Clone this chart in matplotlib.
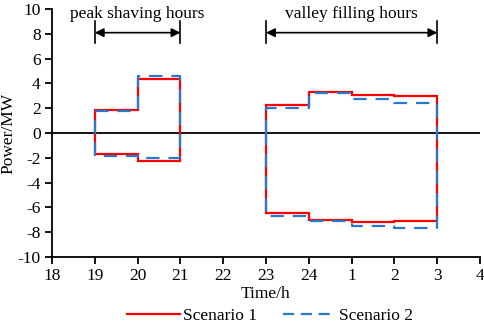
import numpy as np
import matplotlib.pyplot as plt
from matplotlib.lines import Line2D

plt.rcParams['font.family'] = ['Liberation Serif', 'DejaVu Serif']
plt.rcParams['axes.unicode_minus'] = False

# hour axis labels (18h through 4h next day)
hour_labels = ["18", "19", "20", "21", "22", "23", "24", "1", "2", "3", "4"]

# peak shaving period 19-21, valley filling period 23-3
peak_hours = ["19", "20", "21"]
valley_hours = ["23", "24", "1", "2", "3"]

# upper / lower power per hour block (MW)
s1_peak_up = [1.85, 4.35]
s1_peak_dn = [-1.65, -2.25]
s2_peak_up = [1.75, 4.6]
s2_peak_dn = [-1.85, -1.97]

s1_valley_up = [2.23, 3.28, 3.06, 3.0]
s1_valley_dn = [-6.48, -7.0, -7.2, -7.1]
s2_valley_up = [2.0, 3.2, 2.77, 2.4]
s2_valley_dn = [-6.7, -7.1, -7.5, -7.63]

FS = 12.5


def block_outline(hours, up, dn):
    """Closed step outline: upper steps left->right, lower steps right->left."""
    pos = [hour_labels.index(h) for h in hours]
    xs, ys = [pos[0]], [0]
    for i, v in enumerate(up):
        xs += [pos[i], pos[i + 1]]
        ys += [v, v]
    for i in range(len(dn) - 1, -1, -1):
        xs += [pos[i + 1], pos[i]]
        ys += [dn[i], dn[i]]
    xs.append(pos[0])
    ys.append(0)
    return xs, ys


fig = plt.figure(figsize=(4.84, 3.25), dpi=100)
ax = fig.add_axes([0.1074, 0.209, 0.8846, 0.763])

red = "#ff0000"
blue = "#2878d0"

for hours, up, dn in [(peak_hours, s1_peak_up, s1_peak_dn),
                      (valley_hours, s1_valley_up, s1_valley_dn)]:
    xs, ys = block_outline(hours, up, dn)
    ax.plot(xs, ys, color=red, linewidth=1.6, solid_joinstyle="miter")

for hours, up, dn in [(peak_hours, s2_peak_up, s2_peak_dn),
                      (valley_hours, s2_valley_up, s2_valley_dn)]:
    xs, ys = block_outline(hours, up, dn)
    ax.plot(xs, ys, color=blue, linewidth=1.6, dashes=(6, 4))

ax.axhline(0, color="black", linewidth=1.3, zorder=1)

# annotation brackets
for h0, h1, label in [("19", "21", "peak shaving hours"),
                      ("23", "3", "valley filling hours")]:
    x0, x1 = hour_labels.index(h0), hour_labels.index(h1)
    ax.annotate("", xy=(x0, 8.1), xytext=(x1, 8.1),
                arrowprops=dict(arrowstyle="<|-|>", color="black", lw=1.2,
                                mutation_scale=13, shrinkA=0, shrinkB=0))
    for x in (x0, x1):
        ax.plot([x, x], [7.3, 9.0], color="black", linewidth=1.2)
    ax.text((x0 + x1) / 2, 9.6, label, ha="center", va="center", fontsize=FS)

ax.set_xlim(0, 10)
ax.set_ylim(-10, 10)
ax.set_xticks(range(len(hour_labels)))
ax.set_xticklabels(hour_labels)
ax.set_yticks(np.arange(-10, 11, 2))
ax.tick_params(direction="out", length=5, width=1.3, labelsize=FS, pad=3)
for side in ("top", "right"):
    ax.spines[side].set_visible(False)
for side in ("left", "bottom"):
    ax.spines[side].set_linewidth(1.3)

ax.set_xlabel("Time/h", fontsize=FS, labelpad=1)
ax.set_ylabel("Power/MW", fontsize=FS)
ax.yaxis.set_label_coords(-0.082, 0.5)

handles = [Line2D([], [], color=red, linewidth=1.6),
           Line2D([], [], color=blue, linewidth=1.6, dashes=(5, 3))]
fig.legend(handles, ["Scenario 1", "Scenario 2"], loc="center",
           bbox_to_anchor=(0.558, 0.027), ncol=2, frameon=False, fontsize=FS,
           handlelength=3.0, columnspacing=1.5, handletextpad=0.2,
           borderpad=0, borderaxespad=0)

fig.savefig("out.png", dpi=100)
